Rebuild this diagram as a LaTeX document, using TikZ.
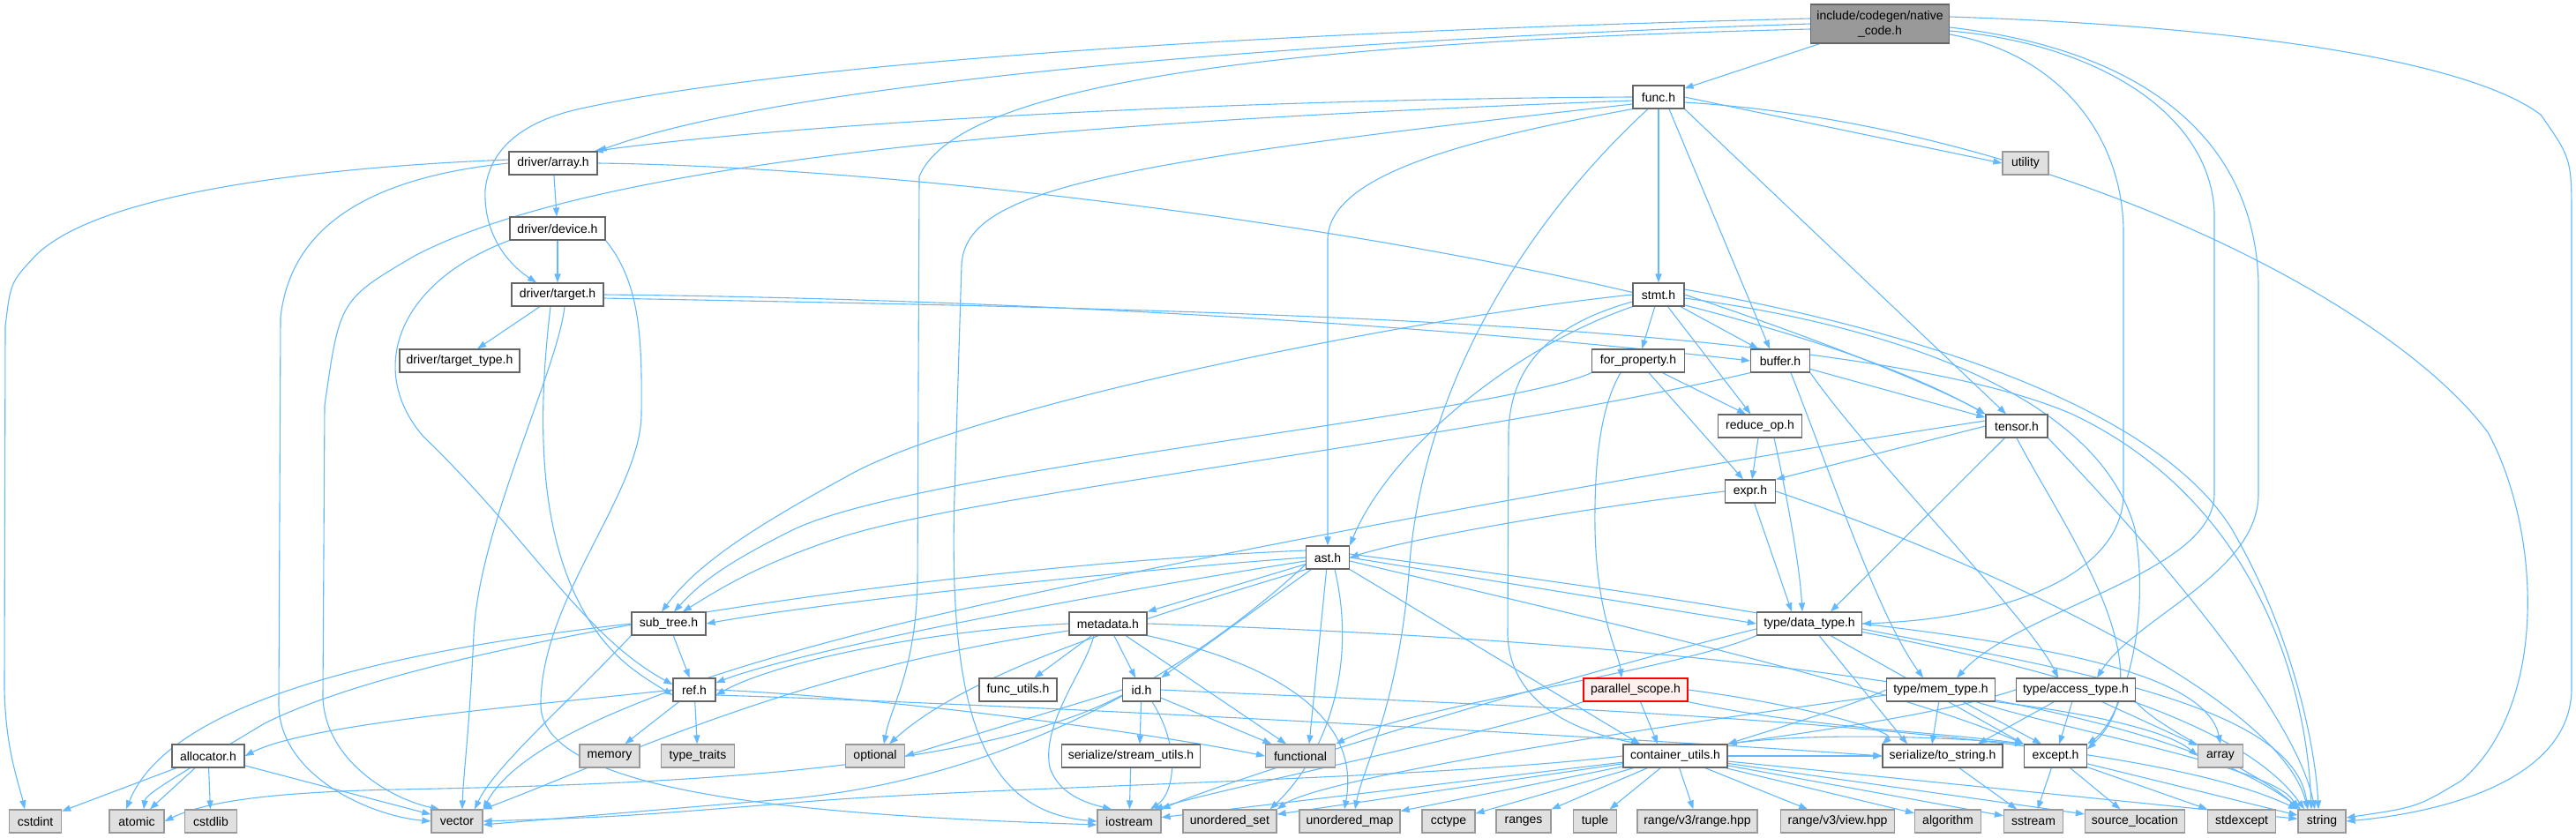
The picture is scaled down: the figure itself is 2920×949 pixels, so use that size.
\documentclass[tikz,border=0pt]{standalone}
\usepackage{fontspec}
\setmainfont{Liberation Sans}
\usetikzlibrary{arrows.meta}
\definecolor{edgec}{HTML}{63B8FF}
\definecolor{bordc}{HTML}{666666}
\definecolor{sysb}{HTML}{999999}
\definecolor{sysf}{HTML}{E0E0E0}
\definecolor{mainf}{HTML}{999999}
\definecolor{pinkf}{HTML}{FFF0F0}
\pgfdeclarelayer{bg}
\pgfsetlayers{bg,main}
\begin{document}
\begin{tikzpicture}[x=0.5pt,y=-0.5pt,
  nd/.style={draw=bordc, fill=white, line width=0.6pt, minimum height=13pt, inner sep=1pt, font=\fontsize{7}{8.5}\selectfont},
  sys/.style={nd, draw=sysb, fill=sysf},
  e/.style={draw=edgec, line width=0.55pt, -{Triangle[length=5pt,width=3.6pt]}}]
\useasboundingbox (0,0) rectangle (2920,949);
% nodes
\node[nd, fill=mainf, minimum width=78.5pt, minimum height=22pt, align=center] (native) at (2131,27) {include/codegen/native\\\_code.h};
\node[nd, minimum width=29pt] (func) at (1880,110) {func.h};
\node[sys, minimum width=26pt] (utility) at (2296,185) {utility};
\node[nd, minimum width=50pt] (array) at (627,185) {driver/array.h};
\node[nd, minimum width=54pt] (device) at (632,259) {driver/device.h};
\node[nd, minimum width=52pt] (target) at (632,334) {driver/target.h};
\node[nd, minimum width=68pt] (ttype) at (521,409) {driver/target\_type.h};
\node[nd, minimum width=29pt] (stmt) at (1880,334) {stmt.h};
\node[nd, minimum width=52.5pt] (forprop) at (1857,409) {for\_property.h};
\node[nd, minimum width=33.5pt] (buffer) at (2018,409) {buffer.h};
\node[nd, minimum width=47.5pt] (reduce) at (1995,483) {reduce\_op.h};
\node[nd, minimum width=35pt] (tensor) at (2286,483) {tensor.h};
\node[nd, minimum width=28.5pt] (expr) at (1984,557) {expr.h};
\node[nd, minimum width=24.5pt] (ast) at (1505,632) {ast.h};
\node[nd, minimum width=42pt] (subtree) at (758,707) {sub\_tree.h};
\node[nd, minimum width=44pt] (metadata) at (1256,707) {metadata.h};
\node[nd, minimum width=59.5pt] (datatype) at (2051,707) {type/data\_type.h};
\node[nd, minimum width=24pt] (ref) at (787,782) {ref.h};
\node[nd, minimum width=44pt] (funcutils) at (1154,782) {func\_utils.h};
\node[nd, minimum width=21.5pt] (id) at (1294,782) {id.h};
\node[nd, draw=red, fill=pinkf, minimum width=59pt] (parallel) at (1854,782) {parallel\_scope.h};
\node[nd, minimum width=61.5pt] (memtype) at (2200,782) {type/mem\_type.h};
\node[nd, minimum width=67.5pt] (accesstype) at (2353,782) {type/access\_type.h};
\node[nd, minimum width=41pt] (allocator) at (236,857) {allocator.h};
\node[sys, minimum width=34pt] (memory) at (691,857) {memory};
\node[sys, minimum width=41.5pt] (typetraits) at (791,857) {type\_traits};
\node[sys, minimum width=33.5pt] (optional) at (992,857) {optional};
\node[nd, minimum width=78.5pt] (streamutils) at (1282,857) {serialize/stream\_utils.h};
\node[sys, minimum width=39.5pt] (functional) at (1474,857) {functional};
\node[nd, minimum width=59pt] (container) at (1899,857) {container\_utils.h};
\node[nd, minimum width=68pt] (tostring) at (2202,857) {serialize/to\_string.h};
\node[nd, minimum width=35.5pt] (except) at (2330,857) {except.h};
\node[sys, minimum width=25.5pt] (arraystd) at (2517,857) {array};
\node[sys, minimum width=29.5pt] (cstdint) at (40,931) {cstdint};
\node[sys, minimum width=31pt] (atomic) at (155,931) {atomic};
\node[sys, minimum width=29.5pt] (cstdlib) at (239,931) {cstdlib};
\node[sys, minimum width=29pt] (vector) at (518,931) {vector};
\node[sys, minimum width=36pt] (iostream) at (1280,931) {iostream};
\node[sys, minimum width=53pt] (uset) at (1394,931) {unordered\_set};
\node[sys, minimum width=57pt] (umap) at (1530,931) {unordered\_map};
\node[sys, minimum width=30pt] (cctype) at (1642,931) {cctype};
\node[sys, minimum width=31pt] (ranges) at (1727,931) {ranges};
\node[sys, minimum width=24.5pt] (tuple) at (1808,931) {tuple};
\node[sys, minimum width=68pt] (rangehpp) at (1924,931) {range/v3/range.hpp};
\node[sys, minimum width=64.5pt] (viewhpp) at (2083,931) {range/v3/view.hpp};
\node[sys, minimum width=37.5pt] (algorithm) at (2208,931) {algorithm};
\node[sys, minimum width=33.5pt] (sstream) at (2305,931) {sstream};
\node[sys, minimum width=56.5pt] (srcloc) at (2420,931) {source\_location};
\node[sys, minimum width=38.5pt] (stdexcept) at (2541,931) {stdexcept};
\node[sys, minimum width=27pt] (string) at (2632,931) {string};
\begin{pgfonlayer}{bg}
% native_code.h
\draw[e] (native) -- (func);
\draw[e] (native.west) .. controls (1500,45) and (900,90) .. (array.north east);
\draw[e] ([yshift=3pt]native.west) .. controls (1200,42) and (800,90) .. (650,125) .. controls (590,140) and (555,170) .. (550,215) .. controls (548,260) and (570,295) .. ([xshift=-12pt]target.north);
\draw[e] ([yshift=-3pt]native.west) .. controls (1350,50) and (1080,110) .. (1042,200) -- (1040,660) .. controls (1038,760) and (1010,800) .. ([xshift=5pt]optional.north);
\draw[e] ([yshift=-6pt]native.east) .. controls (2330,60) and (2405,150) .. (2407,260) -- (2407,560) .. controls (2407,640) and (2300,700) .. (datatype.east);
\draw[e] ([yshift=-4pt]native.east) .. controls (2380,50) and (2505,130) .. (2510,240) -- (2510,560) .. controls (2510,650) and (2290,690) .. ([xshift=9pt]memtype.north);
\draw[e] ([yshift=-2pt]native.east) .. controls (2420,55) and (2555,150) .. (2560,320) -- (2560,560) .. controls (2560,650) and (2420,700) .. ([xshift=12pt]accesstype.north);
\draw[e] ([yshift=4pt]native.east) .. controls (2550,30) and (2800,70) .. (2880,130) .. controls (2915,180) .. (2915,250) -- (2915,780) .. controls (2915,880) and (2780,920) .. (string.east);
% func.h
\draw[e] (func.west) .. controls (1400,112) and (900,140) .. ([xshift=-2pt]array.north east);
\draw[e] ([yshift=-2pt]func.west) .. controls (1300,135) and (700,170) .. (470,290) .. controls (385,340) .. (368,460) -- (366,790) .. controls (368,860) and (440,905) .. ([xshift=-10pt]vector.north);
\draw[e] ([yshift=-4pt]func.west) .. controls (1250,185) and (1095,215) .. (1090,300) -- (1082,560) .. controls (1075,800) and (1110,920) .. (iostream.west);
\draw[e] (func.south west) .. controls (1650,160) and (1508,200) .. (1505,270) -- (ast.north);
\draw[e] ([xshift=-6pt]func.south) .. controls (1720,260) and (1610,450) .. (1597,650) .. controls (1585,800) and (1545,870) .. ([xshift=3pt]umap.north);
\draw[e] (func) -- (stmt);
\draw[e] ([xshift=6pt]func.south) -- ([xshift=-6pt]buffer.north);
\draw[e] (func.south east) -- ([xshift=-6pt]tensor.north);
\draw[e] (func.east) -- (utility.west);
\draw[e] ([yshift=-3pt]func.east) .. controls (2300,140) and (2700,330) .. (2820,490) .. controls (2880,600) and (2890,800) .. (2790,885) .. controls (2740,915) .. ([yshift=2pt]string.east);
% driver/array.h
\draw[e] (array.west) .. controls (430,200) and (330,250) .. (318,360) -- (316,800) .. controls (318,880) and (420,925) .. (vector.west);
\draw[e] ([yshift=2pt]array.west) .. controls (350,190) and (110,220) .. (40,290) .. controls (12,320) .. (6,370) -- (5,780) .. controls (6,850) and (22,890) .. ([xshift=-6pt]cstdint.north);
\draw[e] (array) -- (device);
\draw[e] (array.east) .. controls (1100,190) and (1950,300) .. (tensor.north west);
% driver/device.h
\draw[e] (device) -- (target);
\draw[e] (device.south west) .. controls (450,320) and (415,420) .. (480,495) .. controls (600,610) and (660,720) .. ([yshift=3pt]ref.west);
\draw[e] (device.south east) .. controls (725,320) and (728,380) .. (727,470) .. controls (726,560) and (612,680) .. (613,800) .. controls (615,905) and (950,925) .. ([yshift=-2pt]iostream.west);
% driver/target.h
\draw[e] (target) -- (ttype);
\draw[e] (target.east) .. controls (1100,338) and (1600,365) .. (buffer.west);
\draw[e] ([yshift=-2pt]target.east) .. controls (1300,350) and (2100,360) .. (2350,470) .. controls (2560,570) and (2615,780) .. ([xshift=-6pt]string.north);
\draw[e] ([xshift=-4pt]target.south) .. controls (612,450) and (605,590) .. (660,690) .. controls (690,745) and (725,765) .. ([yshift=-3pt]ref.west);
\draw[e] ([xshift=4pt]target.south) .. controls (632,420) and (542,600) .. (537,720) .. controls (532,830) and (525,880) .. ([xshift=3pt]vector.north);
% stmt.h
\draw[e] (stmt) -- (forprop);
\draw[e] (stmt) -- (reduce);
\draw[e] (stmt) -- (buffer);
\draw[e] (stmt.east) .. controls (2050,380) and (2200,440) .. (tensor.north west);
\draw[e] (stmt.south west) .. controls (1700,400) and (1570,520) .. (ast.north east);
\draw[e] (stmt.west) .. controls (1600,360) and (1100,460) .. (960,540) .. controls (850,600) and (790,640) .. ([xshift=-4pt]subtree.north);
\draw[e] ([yshift=-4pt]stmt.west) .. controls (1750,370) and (1712,420) .. (1710,490) -- (1709,720) .. controls (1712,800) and (1790,830) .. ([xshift=-20pt]container.north);
\draw[e] ([yshift=3pt]stmt.east) .. controls (2200,380) and (2450,470) .. (2530,600) .. controls (2600,720) and (2625,850) .. ([xshift=-2pt]string.north);
\draw[e] ([yshift=-2pt]stmt.east) .. controls (2150,370) and (2380,450) .. (2420,600) .. controls (2440,720) and (2400,820) .. (except.north east);
% for_property.h
\draw[e] ([xshift=-10pt]forprop.south) .. controls (1815,460) and (1807,520) .. (1808,600) .. controls (1810,700) and (1835,740) .. ([xshift=-8pt]parallel.north);
\draw[e] (forprop) -- ([xshift=-8pt]reduce.north);
\draw[e] (forprop) -- ([xshift=-4pt]expr.north);
\draw[e] (forprop.south west) .. controls (1700,470) and (1050,530) .. (900,600) .. controls (820,640) and (795,660) .. ([xshift=3pt]subtree.north);
% buffer.h
\draw[e] (buffer.south west) .. controls (1650,500) and (1100,560) .. (950,610) .. controls (860,640) and (820,665) .. ([xshift=8pt]subtree.north);
\draw[e] (buffer) -- (tensor);
\draw[e] ([xshift=6pt]buffer.south) .. controls (2080,550) and (2130,700) .. ([xshift=-10pt]memtype.north);
\draw[e] (buffer.south east) .. controls (2120,520) and (2300,700) .. ([xshift=-10pt]accesstype.north);
% reduce_op.h
\draw[e] (reduce) -- (expr);
\draw[e] ([xshift=8pt]reduce.south) .. controls (2025,560) and (2040,640) .. ([xshift=-4pt]datatype.north);
% tensor.h
\draw[e] (tensor.west) -- (expr.north east);
\draw[e] (tensor) -- ([xshift=12pt]datatype.north);
\draw[e] (tensor.south) .. controls (2340,600) and (2460,760) .. ([yshift=-3pt]except.north east);
\draw[e] (tensor.south east) .. controls (2420,600) and (2600,800) .. ([xshift=-4pt]string.north);
\draw[e] ([yshift=3pt]tensor.west) .. controls (1800,545) and (1250,650) .. (1000,712) .. controls (850,750) and (600,820) .. (vector.north east);
% expr.h
\draw[e] (expr.west) .. controls (1800,575) and (1600,610) .. (ast.east);
\draw[e] (expr) -- ([xshift=-10pt]datatype.north);
\draw[e] (expr.east) .. controls (2200,620) and (2580,780) .. ([xshift=-8pt]string.north);
% ast.h
\draw[e] (ast) -- (metadata.north east);
\draw[e] (ast) -- (id.north east);
\draw[e] (ast) -- ([xshift=5pt]functional.north);
\draw[e] ([xshift=4pt]ast.south) .. controls (1540,760) and (1500,860) .. ([xshift=-4pt]uset.north east);
\draw[e] (ast.south east) -- ([xshift=-20pt]container.north);
\draw[e] (ast.east) -- (datatype.west);
\draw[e] ([yshift=2pt]ast.east) .. controls (2000,690) and (2500,760) .. ([xshift=-10pt]string.north);
\draw[e] ([yshift=-2pt]ast.east) .. controls (1800,700) and (2150,780) .. (except.north west);
\draw[e] (ast.west) .. controls (1300,645) and (950,680) .. (subtree.east);
\draw[e] ([yshift=-2pt]ast.west) .. controls (1200,680) and (900,740) .. ([yshift=4pt]ref.east);
\draw[e] ([yshift=4pt]ast.west) .. controls (1100,640) and (500,720) .. (300,820) .. controls (200,880) and (165,900) .. ([xshift=4pt]atomic.north);
\draw[e] ([yshift=-4pt]ast.west) .. controls (1350,760) and (1150,880) .. (900,905) .. controls (700,922) .. ([yshift=-2pt]vector.east);
\draw[e] (ast.south west) .. controls (1300,700) and (1100,760) .. ([xshift=8pt]optional.north);
% metadata.h
\draw[e] (metadata) -- (funcutils);
\draw[e] (metadata) -- (id);
\draw[e] (metadata) -- ([xshift=-8pt]functional.north);
\draw[e] ([xshift=-8pt]metadata.south) .. controls (1230,760) and (1180,820) .. (1190,870) .. controls (1200,900) and (1230,910) .. ([xshift=-10pt]iostream.north);
\draw[e] (metadata.east) .. controls (1700,720) and (2400,760) .. ([xshift=-12pt]string.north);
\draw[e] (metadata.south east) .. controls (1480,760) and (1540,830) .. ([xshift=-3pt]umap.north);
\draw[e] (metadata.west) .. controls (1050,715) and (880,750) .. ([yshift=-3pt]ref.east);
\draw[e] ([yshift=-4pt]metadata.west) .. controls (900,760) and (700,860) .. (vector.north east);
% id.h
\draw[e] (id) -- ([xshift=5pt]streamutils.north);
\draw[e] (id) -- (functional);
\draw[e] ([xshift=6pt]id.south) .. controls (1340,850) and (1330,900) .. ([xshift=12pt]iostream.north);
\draw[e] (id.west) -- (optional.east);
\draw[e] ([yshift=-3pt]id.west) .. controls (1100,880) and (700,890) .. (450,895) .. controls (300,898) and (230,910) .. (atomic.east);
\draw[e] (id.east) .. controls (1700,800) and (2400,820) .. ([xshift=-14pt]string.north);
% serialize/stream_utils.h
\draw[e] (streamutils) -- (iostream);
% parallel_scope.h
\draw[e] (parallel) -- ([xshift=-10pt]container.north);
\draw[e] (parallel.east) .. controls (2050,800) and (2150,830) .. (tostring.north west);
\draw[e] (parallel.south east) .. controls (2050,825) and (2200,830) .. (except.north west);
\draw[e] (parallel.south west) .. controls (1700,830) and (1400,890) .. ([xshift=14pt]iostream.north);
% container_utils.h
\foreach \t in {iostream,uset,umap,cctype,ranges,tuple,rangehpp,viewhpp,algorithm,sstream,srcloc,string}
  \draw[e] (container) -- (\t);
\draw[e] (container.west) .. controls (1600,885) and (1100,892) .. (900,910) .. controls (700,926) .. (vector.east);
\draw[e] (container.north east) .. controls (2050,830) and (2200,835) .. (except.north west);
\draw[e] (container.east) -- (tostring.west);
% type/data_type.h
\draw[e] (datatype.south west) .. controls (1900,760) and (1600,800) .. (functional.north east);
\draw[e] (datatype) -- ([xshift=-20pt]tostring.north);
\draw[e] (datatype) -- (except.north west);
\draw[e] (datatype.east) .. controls (2300,730) and (2500,760) .. (arraystd.north);
\draw[e] ([yshift=-3pt]datatype.east) .. controls (2350,760) and (2600,800) .. ([xshift=-8pt]string.north);
\draw[e] ([yshift=-3pt]datatype.west) .. controls (1800,760) and (1400,880) .. (iostream.north east);
% type/mem_type.h
\draw[e] (memtype.west) .. controls (2100,800) and (2000,830) .. (container.north east);
\draw[e] (memtype) -- ([xshift=-6pt]tostring.north);
\draw[e] (memtype) -- ([xshift=-8pt]except.north);
\draw[e] (memtype.south east) .. controls (2380,810) and (2460,830) .. (arraystd.west);
\draw[e] ([xshift=20pt]memtype.south) .. controls (2350,830) and (2580,870) .. (string.north west);
\draw[e] ([yshift=-3pt]memtype.west) .. controls (1900,820) and (1500,880) .. (uset.north east);
% type/access_type.h
\draw[e] (accesstype.west) .. controls (2200,810) and (2050,830) .. (container.north east);
\draw[e] (accesstype) -- ([xshift=20pt]tostring.north);
\draw[e] (accesstype) -- (except);
\draw[e] (accesstype) -- (arraystd);
\draw[e] (accesstype.south east) .. controls (2450,830) and (2570,880) .. (string.north west);
% serialize/to_string.h, except.h
\draw[e] (tostring) -- (sstream);
\draw[e] (except) -- (sstream);
\draw[e] (except) -- (srcloc);
\draw[e] (except) -- (stdexcept);
\draw[e] (except) -- (string);
% allocator.h
\draw[e] (allocator) -- (cstdint);
\draw[e] (allocator) -- (atomic);
\draw[e] (allocator) -- (cstdlib);
\draw[e] (allocator) -- (vector);
% ref.h
\draw[e] (ref) -- (memory);
\draw[e] (ref) -- (typetraits);
\draw[e] (ref.west) .. controls (600,800) and (350,820) .. (allocator.east);
\draw[e] (ref.east) .. controls (1000,790) and (1300,830) .. (functional.west);
\draw[e] ([yshift=-3pt]ref.east) .. controls (1200,800) and (1900,840) .. (tostring.west);
% sub_tree.h
\draw[e] (subtree) -- (ref);
\draw[e] (subtree.south west) .. controls (640,800) and (560,870) .. ([xshift=10pt]vector.north);
\draw[e] (subtree.west) .. controls (420,740) and (190,800) .. ([xshift=-6pt]atomic.north);
\end{pgfonlayer}
\end{tikzpicture}
\end{document}
